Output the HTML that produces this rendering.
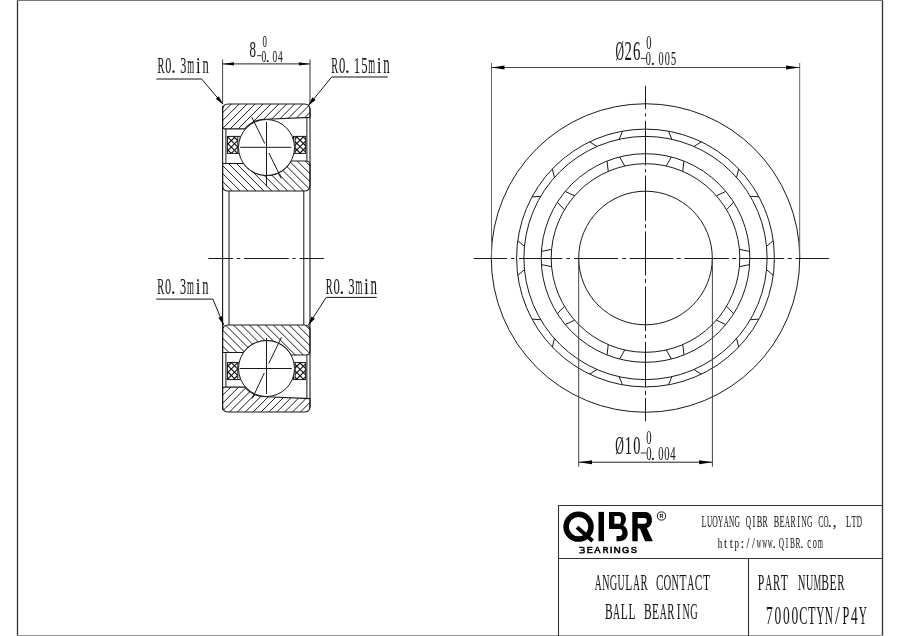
<!DOCTYPE html><html><head><meta charset="utf-8"><style>html,body{margin:0;padding:0;background:#fff;width:900px;height:636px;overflow:hidden;position:relative}</style></head><body><svg width="900" height="636" viewBox="0 0 900 636" style="position:absolute;left:0;top:0;will-change:transform">
<defs>
<clipPath id="co0"><path d="M228.4,104.0 L304.2,104.0 Q310,104.0 310,109.8 L310,117.4 L266.5,119.2 A28.3,28.3 0 0 0 244.7,128.9 L224.5,128.9 Q222.6,128.9 222.6,127 L222.6,109.8 Q222.6,104.0 228.4,104.0 Z"/></clipPath>
<clipPath id="ci0"><path d="M222.6,163.5 L243.52,163.5 A28.0,28.0 0 0 0 291.03,161.0 L306.0,161.0 Q310,161.0 310,165.0 L310,185.2 Q310,191 304.2,191 L228.4,191 Q222.6,191 222.6,185.2 Z"/></clipPath>
<clipPath id="cgl0"><rect x="227.4" y="136.4" width="10.400000000000006" height="17.0"/></clipPath>
<clipPath id="cgr0"><rect x="295.1" y="136.4" width="10.599999999999966" height="17.0"/></clipPath>
<clipPath id="co1"><path d="M228.4,412.0 L304.2,412.0 Q310,412.0 310,406.2 L310,398.6 L266.5,396.8 A28.3,28.3 0 0 1 244.7,387.1 L224.5,387.1 Q222.6,387.1 222.6,389.0 L222.6,406.2 Q222.6,412.0 228.4,412.0 Z"/></clipPath>
<clipPath id="ci1"><path d="M222.6,352.5 L243.52,352.5 A28.0,28.0 0 0 1 291.03,355.0 L306.0,355.0 Q310,355.0 310,351.0 L310,330.8 Q310,325.0 304.2,325.0 L228.4,325.0 Q222.6,325.0 222.6,330.8 Z"/></clipPath>
<clipPath id="cgl1"><rect x="227.4" y="362.6" width="10.400000000000006" height="17.0"/></clipPath>
<clipPath id="cgr1"><rect x="295.1" y="362.6" width="10.599999999999966" height="17.0"/></clipPath>
</defs>
<rect x="0" y="0" width="900" height="636" fill="#fff"/>
<line x1="17.50" y1="0.00" x2="17.50" y2="636.00" stroke="#333" stroke-width="1.3" />
<line x1="882.50" y1="0.00" x2="882.50" y2="636.00" stroke="#333" stroke-width="1.3" />
<line x1="17.00" y1="0.50" x2="883.00" y2="0.50" stroke="#777" stroke-width="1" />
<line x1="17.00" y1="635.50" x2="883.00" y2="635.50" stroke="#999" stroke-width="1" />
<rect x="227.4" y="136.4" width="12.799999999999983" height="17.0" fill="#fff" stroke="#1a1a1a" stroke-width="1"/>
<rect x="293.5" y="136.4" width="12.199999999999989" height="17.0" fill="#fff" stroke="#1a1a1a" stroke-width="1"/>
<line x1="237.80" y1="136.40" x2="237.80" y2="153.40" stroke="#1a1a1a" stroke-width="1" />
<line x1="295.10" y1="136.40" x2="295.10" y2="153.40" stroke="#1a1a1a" stroke-width="1" />
<g clip-path="url(#cgl0)">
<line x1="233.50" y1="100.00" x2="-66.50" y2="400.00" stroke="#111" stroke-width="1.15" />
<line x1="145.90" y1="100.00" x2="445.90" y2="400.00" stroke="#111" stroke-width="1.15" />
<line x1="239.90" y1="100.00" x2="-60.10" y2="400.00" stroke="#111" stroke-width="1.15" />
<line x1="152.30" y1="100.00" x2="452.30" y2="400.00" stroke="#111" stroke-width="1.15" />
<line x1="246.30" y1="100.00" x2="-53.70" y2="400.00" stroke="#111" stroke-width="1.15" />
<line x1="158.70" y1="100.00" x2="458.70" y2="400.00" stroke="#111" stroke-width="1.15" />
<line x1="252.70" y1="100.00" x2="-47.30" y2="400.00" stroke="#111" stroke-width="1.15" />
<line x1="165.10" y1="100.00" x2="465.10" y2="400.00" stroke="#111" stroke-width="1.15" />
<line x1="259.10" y1="100.00" x2="-40.90" y2="400.00" stroke="#111" stroke-width="1.15" />
<line x1="171.50" y1="100.00" x2="471.50" y2="400.00" stroke="#111" stroke-width="1.15" />
<line x1="265.50" y1="100.00" x2="-34.50" y2="400.00" stroke="#111" stroke-width="1.15" />
<line x1="177.90" y1="100.00" x2="477.90" y2="400.00" stroke="#111" stroke-width="1.15" />
<line x1="271.90" y1="100.00" x2="-28.10" y2="400.00" stroke="#111" stroke-width="1.15" />
<line x1="184.30" y1="100.00" x2="484.30" y2="400.00" stroke="#111" stroke-width="1.15" />
<line x1="278.30" y1="100.00" x2="-21.70" y2="400.00" stroke="#111" stroke-width="1.15" />
<line x1="190.70" y1="100.00" x2="490.70" y2="400.00" stroke="#111" stroke-width="1.15" />
<line x1="284.70" y1="100.00" x2="-15.30" y2="400.00" stroke="#111" stroke-width="1.15" />
<line x1="197.10" y1="100.00" x2="497.10" y2="400.00" stroke="#111" stroke-width="1.15" />
<line x1="291.10" y1="100.00" x2="-8.90" y2="400.00" stroke="#111" stroke-width="1.15" />
<line x1="203.50" y1="100.00" x2="503.50" y2="400.00" stroke="#111" stroke-width="1.15" />
<line x1="297.50" y1="100.00" x2="-2.50" y2="400.00" stroke="#111" stroke-width="1.15" />
<line x1="209.90" y1="100.00" x2="509.90" y2="400.00" stroke="#111" stroke-width="1.15" />
<line x1="303.90" y1="100.00" x2="3.90" y2="400.00" stroke="#111" stroke-width="1.15" />
<line x1="216.30" y1="100.00" x2="516.30" y2="400.00" stroke="#111" stroke-width="1.15" />
<line x1="310.30" y1="100.00" x2="10.30" y2="400.00" stroke="#111" stroke-width="1.15" />
<line x1="222.70" y1="100.00" x2="522.70" y2="400.00" stroke="#111" stroke-width="1.15" />
<line x1="316.70" y1="100.00" x2="16.70" y2="400.00" stroke="#111" stroke-width="1.15" />
<line x1="229.10" y1="100.00" x2="529.10" y2="400.00" stroke="#111" stroke-width="1.15" />
</g>
<g clip-path="url(#cgr0)">
<line x1="301.90" y1="100.00" x2="1.90" y2="400.00" stroke="#111" stroke-width="1.15" />
<line x1="215.10" y1="100.00" x2="515.10" y2="400.00" stroke="#111" stroke-width="1.15" />
<line x1="308.30" y1="100.00" x2="8.30" y2="400.00" stroke="#111" stroke-width="1.15" />
<line x1="221.50" y1="100.00" x2="521.50" y2="400.00" stroke="#111" stroke-width="1.15" />
<line x1="314.70" y1="100.00" x2="14.70" y2="400.00" stroke="#111" stroke-width="1.15" />
<line x1="227.90" y1="100.00" x2="527.90" y2="400.00" stroke="#111" stroke-width="1.15" />
<line x1="321.10" y1="100.00" x2="21.10" y2="400.00" stroke="#111" stroke-width="1.15" />
<line x1="234.30" y1="100.00" x2="534.30" y2="400.00" stroke="#111" stroke-width="1.15" />
<line x1="327.50" y1="100.00" x2="27.50" y2="400.00" stroke="#111" stroke-width="1.15" />
<line x1="240.70" y1="100.00" x2="540.70" y2="400.00" stroke="#111" stroke-width="1.15" />
<line x1="333.90" y1="100.00" x2="33.90" y2="400.00" stroke="#111" stroke-width="1.15" />
<line x1="247.10" y1="100.00" x2="547.10" y2="400.00" stroke="#111" stroke-width="1.15" />
<line x1="340.30" y1="100.00" x2="40.30" y2="400.00" stroke="#111" stroke-width="1.15" />
<line x1="253.50" y1="100.00" x2="553.50" y2="400.00" stroke="#111" stroke-width="1.15" />
<line x1="346.70" y1="100.00" x2="46.70" y2="400.00" stroke="#111" stroke-width="1.15" />
<line x1="259.90" y1="100.00" x2="559.90" y2="400.00" stroke="#111" stroke-width="1.15" />
<line x1="353.10" y1="100.00" x2="53.10" y2="400.00" stroke="#111" stroke-width="1.15" />
<line x1="266.30" y1="100.00" x2="566.30" y2="400.00" stroke="#111" stroke-width="1.15" />
<line x1="359.50" y1="100.00" x2="59.50" y2="400.00" stroke="#111" stroke-width="1.15" />
<line x1="272.70" y1="100.00" x2="572.70" y2="400.00" stroke="#111" stroke-width="1.15" />
<line x1="365.90" y1="100.00" x2="65.90" y2="400.00" stroke="#111" stroke-width="1.15" />
<line x1="279.10" y1="100.00" x2="579.10" y2="400.00" stroke="#111" stroke-width="1.15" />
<line x1="372.30" y1="100.00" x2="72.30" y2="400.00" stroke="#111" stroke-width="1.15" />
<line x1="285.50" y1="100.00" x2="585.50" y2="400.00" stroke="#111" stroke-width="1.15" />
<line x1="378.70" y1="100.00" x2="78.70" y2="400.00" stroke="#111" stroke-width="1.15" />
<line x1="291.90" y1="100.00" x2="591.90" y2="400.00" stroke="#111" stroke-width="1.15" />
<line x1="385.10" y1="100.00" x2="85.10" y2="400.00" stroke="#111" stroke-width="1.15" />
<line x1="298.30" y1="100.00" x2="598.30" y2="400.00" stroke="#111" stroke-width="1.15" />
</g>
<line x1="225.90" y1="128.90" x2="225.90" y2="163.50" stroke="#1a1a1a" stroke-width="1" />
<line x1="306.90" y1="117.40" x2="306.90" y2="161.00" stroke="#1a1a1a" stroke-width="1" />
<path d="M228.4,104.0 L304.2,104.0 Q310,104.0 310,109.8 L310,117.4 L266.5,119.2 A28.3,28.3 0 0 0 244.7,128.9 L224.5,128.9 Q222.6,128.9 222.6,127 L222.6,109.8 Q222.6,104.0 228.4,104.0 Z" fill="#fff" stroke="#1a1a1a" stroke-width="1.1"/>
<path d="M222.6,163.5 L243.52,163.5 A28.0,28.0 0 0 0 291.03,161.0 L306.0,161.0 Q310,161.0 310,165.0 L310,185.2 Q310,191 304.2,191 L228.4,191 Q222.6,191 222.6,185.2 Z" fill="#fff" stroke="#1a1a1a" stroke-width="1.1"/>
<circle cx="266.5" cy="147.5" r="28.0" fill="#fff" stroke="#1a1a1a" stroke-width="1"/>
<g clip-path="url(#co0)">
<line x1="237.38" y1="90.00" x2="-102.62" y2="430.00" stroke="#1a1a1a" stroke-width="1.0" />
<line x1="245.30" y1="90.00" x2="-94.70" y2="430.00" stroke="#1a1a1a" stroke-width="1.0" />
<line x1="253.22" y1="90.00" x2="-86.78" y2="430.00" stroke="#1a1a1a" stroke-width="1.0" />
<line x1="261.14" y1="90.00" x2="-78.86" y2="430.00" stroke="#1a1a1a" stroke-width="1.0" />
<line x1="269.06" y1="90.00" x2="-70.94" y2="430.00" stroke="#1a1a1a" stroke-width="1.0" />
<line x1="276.98" y1="90.00" x2="-63.02" y2="430.00" stroke="#1a1a1a" stroke-width="1.0" />
<line x1="284.90" y1="90.00" x2="-55.10" y2="430.00" stroke="#1a1a1a" stroke-width="1.0" />
<line x1="292.82" y1="90.00" x2="-47.18" y2="430.00" stroke="#1a1a1a" stroke-width="1.0" />
<line x1="300.74" y1="90.00" x2="-39.26" y2="430.00" stroke="#1a1a1a" stroke-width="1.0" />
<line x1="308.66" y1="90.00" x2="-31.34" y2="430.00" stroke="#1a1a1a" stroke-width="1.0" />
<line x1="316.58" y1="90.00" x2="-23.42" y2="430.00" stroke="#1a1a1a" stroke-width="1.0" />
<line x1="324.50" y1="90.00" x2="-15.50" y2="430.00" stroke="#1a1a1a" stroke-width="1.0" />
<line x1="332.42" y1="90.00" x2="-7.58" y2="430.00" stroke="#1a1a1a" stroke-width="1.0" />
<line x1="340.34" y1="90.00" x2="0.34" y2="430.00" stroke="#1a1a1a" stroke-width="1.0" />
<line x1="348.26" y1="90.00" x2="8.26" y2="430.00" stroke="#1a1a1a" stroke-width="1.0" />
<line x1="356.18" y1="90.00" x2="16.18" y2="430.00" stroke="#1a1a1a" stroke-width="1.0" />
</g>
<g clip-path="url(#ci0)">
<line x1="115.36" y1="90.00" x2="455.36" y2="430.00" stroke="#1a1a1a" stroke-width="1.0" />
<line x1="123.28" y1="90.00" x2="463.28" y2="430.00" stroke="#1a1a1a" stroke-width="1.0" />
<line x1="131.20" y1="90.00" x2="471.20" y2="430.00" stroke="#1a1a1a" stroke-width="1.0" />
<line x1="139.12" y1="90.00" x2="479.12" y2="430.00" stroke="#1a1a1a" stroke-width="1.0" />
<line x1="147.04" y1="90.00" x2="487.04" y2="430.00" stroke="#1a1a1a" stroke-width="1.0" />
<line x1="154.96" y1="90.00" x2="494.96" y2="430.00" stroke="#1a1a1a" stroke-width="1.0" />
<line x1="162.88" y1="90.00" x2="502.88" y2="430.00" stroke="#1a1a1a" stroke-width="1.0" />
<line x1="170.80" y1="90.00" x2="510.80" y2="430.00" stroke="#1a1a1a" stroke-width="1.0" />
<line x1="178.72" y1="90.00" x2="518.72" y2="430.00" stroke="#1a1a1a" stroke-width="1.0" />
<line x1="186.64" y1="90.00" x2="526.64" y2="430.00" stroke="#1a1a1a" stroke-width="1.0" />
<line x1="194.56" y1="90.00" x2="534.56" y2="430.00" stroke="#1a1a1a" stroke-width="1.0" />
<line x1="202.48" y1="90.00" x2="542.48" y2="430.00" stroke="#1a1a1a" stroke-width="1.0" />
<line x1="210.40" y1="90.00" x2="550.40" y2="430.00" stroke="#1a1a1a" stroke-width="1.0" />
<line x1="218.32" y1="90.00" x2="558.32" y2="430.00" stroke="#1a1a1a" stroke-width="1.0" />
<line x1="226.24" y1="90.00" x2="566.24" y2="430.00" stroke="#1a1a1a" stroke-width="1.0" />
<line x1="234.16" y1="90.00" x2="574.16" y2="430.00" stroke="#1a1a1a" stroke-width="1.0" />
<line x1="242.08" y1="90.00" x2="582.08" y2="430.00" stroke="#1a1a1a" stroke-width="1.0" />
<line x1="250.00" y1="90.00" x2="590.00" y2="430.00" stroke="#1a1a1a" stroke-width="1.0" />
</g>
<rect x="227.4" y="362.6" width="12.799999999999983" height="17.0" fill="#fff" stroke="#1a1a1a" stroke-width="1"/>
<rect x="293.5" y="362.6" width="12.199999999999989" height="17.0" fill="#fff" stroke="#1a1a1a" stroke-width="1"/>
<line x1="237.80" y1="362.60" x2="237.80" y2="379.60" stroke="#1a1a1a" stroke-width="1" />
<line x1="295.10" y1="362.60" x2="295.10" y2="379.60" stroke="#1a1a1a" stroke-width="1" />
<g clip-path="url(#cgl1)">
<line x1="233.50" y1="416.00" x2="-66.50" y2="116.00" stroke="#111" stroke-width="1.15" />
<line x1="145.90" y1="416.00" x2="445.90" y2="116.00" stroke="#111" stroke-width="1.15" />
<line x1="239.90" y1="416.00" x2="-60.10" y2="116.00" stroke="#111" stroke-width="1.15" />
<line x1="152.30" y1="416.00" x2="452.30" y2="116.00" stroke="#111" stroke-width="1.15" />
<line x1="246.30" y1="416.00" x2="-53.70" y2="116.00" stroke="#111" stroke-width="1.15" />
<line x1="158.70" y1="416.00" x2="458.70" y2="116.00" stroke="#111" stroke-width="1.15" />
<line x1="252.70" y1="416.00" x2="-47.30" y2="116.00" stroke="#111" stroke-width="1.15" />
<line x1="165.10" y1="416.00" x2="465.10" y2="116.00" stroke="#111" stroke-width="1.15" />
<line x1="259.10" y1="416.00" x2="-40.90" y2="116.00" stroke="#111" stroke-width="1.15" />
<line x1="171.50" y1="416.00" x2="471.50" y2="116.00" stroke="#111" stroke-width="1.15" />
<line x1="265.50" y1="416.00" x2="-34.50" y2="116.00" stroke="#111" stroke-width="1.15" />
<line x1="177.90" y1="416.00" x2="477.90" y2="116.00" stroke="#111" stroke-width="1.15" />
<line x1="271.90" y1="416.00" x2="-28.10" y2="116.00" stroke="#111" stroke-width="1.15" />
<line x1="184.30" y1="416.00" x2="484.30" y2="116.00" stroke="#111" stroke-width="1.15" />
<line x1="278.30" y1="416.00" x2="-21.70" y2="116.00" stroke="#111" stroke-width="1.15" />
<line x1="190.70" y1="416.00" x2="490.70" y2="116.00" stroke="#111" stroke-width="1.15" />
<line x1="284.70" y1="416.00" x2="-15.30" y2="116.00" stroke="#111" stroke-width="1.15" />
<line x1="197.10" y1="416.00" x2="497.10" y2="116.00" stroke="#111" stroke-width="1.15" />
<line x1="291.10" y1="416.00" x2="-8.90" y2="116.00" stroke="#111" stroke-width="1.15" />
<line x1="203.50" y1="416.00" x2="503.50" y2="116.00" stroke="#111" stroke-width="1.15" />
<line x1="297.50" y1="416.00" x2="-2.50" y2="116.00" stroke="#111" stroke-width="1.15" />
<line x1="209.90" y1="416.00" x2="509.90" y2="116.00" stroke="#111" stroke-width="1.15" />
<line x1="303.90" y1="416.00" x2="3.90" y2="116.00" stroke="#111" stroke-width="1.15" />
<line x1="216.30" y1="416.00" x2="516.30" y2="116.00" stroke="#111" stroke-width="1.15" />
<line x1="310.30" y1="416.00" x2="10.30" y2="116.00" stroke="#111" stroke-width="1.15" />
<line x1="222.70" y1="416.00" x2="522.70" y2="116.00" stroke="#111" stroke-width="1.15" />
<line x1="316.70" y1="416.00" x2="16.70" y2="116.00" stroke="#111" stroke-width="1.15" />
<line x1="229.10" y1="416.00" x2="529.10" y2="116.00" stroke="#111" stroke-width="1.15" />
</g>
<g clip-path="url(#cgr1)">
<line x1="301.90" y1="416.00" x2="1.90" y2="116.00" stroke="#111" stroke-width="1.15" />
<line x1="215.10" y1="416.00" x2="515.10" y2="116.00" stroke="#111" stroke-width="1.15" />
<line x1="308.30" y1="416.00" x2="8.30" y2="116.00" stroke="#111" stroke-width="1.15" />
<line x1="221.50" y1="416.00" x2="521.50" y2="116.00" stroke="#111" stroke-width="1.15" />
<line x1="314.70" y1="416.00" x2="14.70" y2="116.00" stroke="#111" stroke-width="1.15" />
<line x1="227.90" y1="416.00" x2="527.90" y2="116.00" stroke="#111" stroke-width="1.15" />
<line x1="321.10" y1="416.00" x2="21.10" y2="116.00" stroke="#111" stroke-width="1.15" />
<line x1="234.30" y1="416.00" x2="534.30" y2="116.00" stroke="#111" stroke-width="1.15" />
<line x1="327.50" y1="416.00" x2="27.50" y2="116.00" stroke="#111" stroke-width="1.15" />
<line x1="240.70" y1="416.00" x2="540.70" y2="116.00" stroke="#111" stroke-width="1.15" />
<line x1="333.90" y1="416.00" x2="33.90" y2="116.00" stroke="#111" stroke-width="1.15" />
<line x1="247.10" y1="416.00" x2="547.10" y2="116.00" stroke="#111" stroke-width="1.15" />
<line x1="340.30" y1="416.00" x2="40.30" y2="116.00" stroke="#111" stroke-width="1.15" />
<line x1="253.50" y1="416.00" x2="553.50" y2="116.00" stroke="#111" stroke-width="1.15" />
<line x1="346.70" y1="416.00" x2="46.70" y2="116.00" stroke="#111" stroke-width="1.15" />
<line x1="259.90" y1="416.00" x2="559.90" y2="116.00" stroke="#111" stroke-width="1.15" />
<line x1="353.10" y1="416.00" x2="53.10" y2="116.00" stroke="#111" stroke-width="1.15" />
<line x1="266.30" y1="416.00" x2="566.30" y2="116.00" stroke="#111" stroke-width="1.15" />
<line x1="359.50" y1="416.00" x2="59.50" y2="116.00" stroke="#111" stroke-width="1.15" />
<line x1="272.70" y1="416.00" x2="572.70" y2="116.00" stroke="#111" stroke-width="1.15" />
<line x1="365.90" y1="416.00" x2="65.90" y2="116.00" stroke="#111" stroke-width="1.15" />
<line x1="279.10" y1="416.00" x2="579.10" y2="116.00" stroke="#111" stroke-width="1.15" />
<line x1="372.30" y1="416.00" x2="72.30" y2="116.00" stroke="#111" stroke-width="1.15" />
<line x1="285.50" y1="416.00" x2="585.50" y2="116.00" stroke="#111" stroke-width="1.15" />
<line x1="378.70" y1="416.00" x2="78.70" y2="116.00" stroke="#111" stroke-width="1.15" />
<line x1="291.90" y1="416.00" x2="591.90" y2="116.00" stroke="#111" stroke-width="1.15" />
<line x1="385.10" y1="416.00" x2="85.10" y2="116.00" stroke="#111" stroke-width="1.15" />
<line x1="298.30" y1="416.00" x2="598.30" y2="116.00" stroke="#111" stroke-width="1.15" />
</g>
<line x1="225.90" y1="352.50" x2="225.90" y2="387.10" stroke="#1a1a1a" stroke-width="1" />
<line x1="306.90" y1="355.00" x2="306.90" y2="398.60" stroke="#1a1a1a" stroke-width="1" />
<path d="M228.4,412.0 L304.2,412.0 Q310,412.0 310,406.2 L310,398.6 L266.5,396.8 A28.3,28.3 0 0 1 244.7,387.1 L224.5,387.1 Q222.6,387.1 222.6,389.0 L222.6,406.2 Q222.6,412.0 228.4,412.0 Z" fill="#fff" stroke="#1a1a1a" stroke-width="1.1"/>
<path d="M222.6,352.5 L243.52,352.5 A28.0,28.0 0 0 1 291.03,355.0 L306.0,355.0 Q310,355.0 310,351.0 L310,330.8 Q310,325.0 304.2,325.0 L228.4,325.0 Q222.6,325.0 222.6,330.8 Z" fill="#fff" stroke="#1a1a1a" stroke-width="1.1"/>
<circle cx="266.5" cy="368.5" r="28.0" fill="#fff" stroke="#1a1a1a" stroke-width="1"/>
<g clip-path="url(#ci1)">
<line x1="-49.46" y1="90.00" x2="290.54" y2="430.00" stroke="#1a1a1a" stroke-width="1.0" />
<line x1="-41.48" y1="90.00" x2="298.52" y2="430.00" stroke="#1a1a1a" stroke-width="1.0" />
<line x1="-33.50" y1="90.00" x2="306.50" y2="430.00" stroke="#1a1a1a" stroke-width="1.0" />
<line x1="-25.52" y1="90.00" x2="314.48" y2="430.00" stroke="#1a1a1a" stroke-width="1.0" />
<line x1="-17.54" y1="90.00" x2="322.46" y2="430.00" stroke="#1a1a1a" stroke-width="1.0" />
<line x1="-9.56" y1="90.00" x2="330.44" y2="430.00" stroke="#1a1a1a" stroke-width="1.0" />
<line x1="-1.58" y1="90.00" x2="338.42" y2="430.00" stroke="#1a1a1a" stroke-width="1.0" />
<line x1="6.40" y1="90.00" x2="346.40" y2="430.00" stroke="#1a1a1a" stroke-width="1.0" />
<line x1="14.38" y1="90.00" x2="354.38" y2="430.00" stroke="#1a1a1a" stroke-width="1.0" />
<line x1="22.36" y1="90.00" x2="362.36" y2="430.00" stroke="#1a1a1a" stroke-width="1.0" />
<line x1="30.34" y1="90.00" x2="370.34" y2="430.00" stroke="#1a1a1a" stroke-width="1.0" />
<line x1="38.32" y1="90.00" x2="378.32" y2="430.00" stroke="#1a1a1a" stroke-width="1.0" />
<line x1="46.30" y1="90.00" x2="386.30" y2="430.00" stroke="#1a1a1a" stroke-width="1.0" />
<line x1="54.28" y1="90.00" x2="394.28" y2="430.00" stroke="#1a1a1a" stroke-width="1.0" />
<line x1="62.26" y1="90.00" x2="402.26" y2="430.00" stroke="#1a1a1a" stroke-width="1.0" />
<line x1="70.24" y1="90.00" x2="410.24" y2="430.00" stroke="#1a1a1a" stroke-width="1.0" />
<line x1="78.22" y1="90.00" x2="418.22" y2="430.00" stroke="#1a1a1a" stroke-width="1.0" />
<line x1="86.20" y1="90.00" x2="426.20" y2="430.00" stroke="#1a1a1a" stroke-width="1.0" />
</g>
<g clip-path="url(#co1)">
<line x1="519.98" y1="90.00" x2="179.98" y2="430.00" stroke="#1a1a1a" stroke-width="1.0" />
<line x1="527.86" y1="90.00" x2="187.86" y2="430.00" stroke="#1a1a1a" stroke-width="1.0" />
<line x1="535.74" y1="90.00" x2="195.74" y2="430.00" stroke="#1a1a1a" stroke-width="1.0" />
<line x1="543.62" y1="90.00" x2="203.62" y2="430.00" stroke="#1a1a1a" stroke-width="1.0" />
<line x1="551.50" y1="90.00" x2="211.50" y2="430.00" stroke="#1a1a1a" stroke-width="1.0" />
<line x1="559.38" y1="90.00" x2="219.38" y2="430.00" stroke="#1a1a1a" stroke-width="1.0" />
<line x1="567.26" y1="90.00" x2="227.26" y2="430.00" stroke="#1a1a1a" stroke-width="1.0" />
<line x1="575.14" y1="90.00" x2="235.14" y2="430.00" stroke="#1a1a1a" stroke-width="1.0" />
<line x1="583.02" y1="90.00" x2="243.02" y2="430.00" stroke="#1a1a1a" stroke-width="1.0" />
<line x1="590.90" y1="90.00" x2="250.90" y2="430.00" stroke="#1a1a1a" stroke-width="1.0" />
<line x1="598.78" y1="90.00" x2="258.78" y2="430.00" stroke="#1a1a1a" stroke-width="1.0" />
<line x1="606.66" y1="90.00" x2="266.66" y2="430.00" stroke="#1a1a1a" stroke-width="1.0" />
<line x1="614.54" y1="90.00" x2="274.54" y2="430.00" stroke="#1a1a1a" stroke-width="1.0" />
<line x1="622.42" y1="90.00" x2="282.42" y2="430.00" stroke="#1a1a1a" stroke-width="1.0" />
<line x1="630.30" y1="90.00" x2="290.30" y2="430.00" stroke="#1a1a1a" stroke-width="1.0" />
<line x1="638.18" y1="90.00" x2="298.18" y2="430.00" stroke="#1a1a1a" stroke-width="1.0" />
</g>
<line x1="222.60" y1="106.00" x2="222.60" y2="410.00" stroke="#1a1a1a" stroke-width="1.1" />
<line x1="310.00" y1="108.00" x2="310.00" y2="408.00" stroke="#1a1a1a" stroke-width="1.1" />
<line x1="229.00" y1="191.00" x2="229.00" y2="325.00" stroke="#1a1a1a" stroke-width="1" />
<line x1="303.80" y1="191.00" x2="303.80" y2="325.00" stroke="#1a1a1a" stroke-width="1" />
<line x1="266.50" y1="121.80" x2="266.50" y2="186.30" stroke="#1a1a1a" stroke-width="1" />
<line x1="240.20" y1="147.30" x2="291.40" y2="147.30" stroke="#1a1a1a" stroke-width="1" />
<line x1="251.80" y1="117.10" x2="264.80" y2="143.60" stroke="#1a1a1a" stroke-width="1" />
<line x1="268.90" y1="153.00" x2="281.30" y2="178.40" stroke="#1a1a1a" stroke-width="1" />
<polygon points="281.30,178.40 280.31,173.87 278.34,174.84" fill="#333"/>
<polygon points="252.30,398.40 255.22,394.80 253.23,393.86" fill="#333"/>
<line x1="266.50" y1="337.90" x2="266.50" y2="393.90" stroke="#1a1a1a" stroke-width="1" />
<line x1="239.60" y1="368.50" x2="291.90" y2="368.50" stroke="#1a1a1a" stroke-width="1" />
<line x1="281.50" y1="337.20" x2="268.80" y2="363.30" stroke="#1a1a1a" stroke-width="1" />
<line x1="264.30" y1="373.00" x2="252.30" y2="398.40" stroke="#1a1a1a" stroke-width="1" />
<line x1="208.40" y1="258.50" x2="232.90" y2="258.50" stroke="#1a1a1a" stroke-width="1" />
<line x1="236.80" y1="258.50" x2="240.20" y2="258.50" stroke="#1a1a1a" stroke-width="1" />
<line x1="244.00" y1="258.50" x2="288.80" y2="258.50" stroke="#1a1a1a" stroke-width="1" />
<line x1="292.40" y1="258.50" x2="295.60" y2="258.50" stroke="#1a1a1a" stroke-width="1" />
<line x1="299.70" y1="258.50" x2="323.90" y2="258.50" stroke="#1a1a1a" stroke-width="1" />
<line x1="222.60" y1="59.40" x2="222.60" y2="104.00" stroke="#444" stroke-width="1" />
<line x1="310.00" y1="59.40" x2="310.00" y2="104.00" stroke="#333" stroke-width="1" />
<line x1="222.60" y1="63.90" x2="310.00" y2="63.90" stroke="#222" stroke-width="1" />
<polygon points="222.60,63.90 233.90,65.50 233.90,62.30" fill="#000"/>
<polygon points="310.00,63.90 298.90,62.30 298.90,65.50" fill="#000"/>
<line x1="257.10" y1="55.70" x2="261.40" y2="55.70" stroke="#1a1a1a" stroke-width="0.9" />
<line x1="156.40" y1="79.00" x2="201.60" y2="79.00" stroke="#111" stroke-width="1" />
<line x1="201.60" y1="79.00" x2="223.00" y2="104.20" stroke="#1a1a1a" stroke-width="1" />
<polygon points="223.10,104.40 218.81,96.24 215.76,98.82" fill="#000"/>
<line x1="331.70" y1="77.00" x2="387.80" y2="77.00" stroke="#111" stroke-width="1" />
<line x1="331.70" y1="77.00" x2="308.30" y2="105.60" stroke="#1a1a1a" stroke-width="1" />
<polygon points="308.30,105.60 315.55,99.90 312.45,97.37" fill="#000"/>
<line x1="156.20" y1="299.10" x2="212.90" y2="299.10" stroke="#111" stroke-width="1" />
<line x1="212.90" y1="299.10" x2="223.70" y2="325.20" stroke="#1a1a1a" stroke-width="1" />
<polygon points="223.70,325.20 222.11,316.12 218.41,317.65" fill="#000"/>
<line x1="326.20" y1="297.40" x2="376.70" y2="297.40" stroke="#111" stroke-width="1" />
<line x1="326.20" y1="297.40" x2="308.30" y2="325.20" stroke="#1a1a1a" stroke-width="1" />
<polygon points="308.30,325.20 314.85,318.72 311.49,316.55" fill="#000"/>
<circle cx="645.5" cy="258.0" r="154.25" fill="none" stroke="#1a1a1a" stroke-width="1"/>
<circle cx="645.5" cy="258.0" r="128.9" fill="none" stroke="#1a1a1a" stroke-width="1"/>
<circle cx="645.5" cy="258.0" r="121.6" fill="none" stroke="#1a1a1a" stroke-width="1"/>
<circle cx="645.5" cy="258.0" r="104.3" fill="none" stroke="#1a1a1a" stroke-width="1"/>
<circle cx="645.5" cy="258.0" r="94.3" fill="none" stroke="#1a1a1a" stroke-width="1"/>
<circle cx="645.5" cy="258.0" r="66.8" fill="none" stroke="#1a1a1a" stroke-width="1"/>
<line x1="622.45" y1="131.18" x2="619.18" y2="139.28" stroke="#1a1a1a" stroke-width="1" />
<line x1="619.65" y1="156.95" x2="624.69" y2="166.03" stroke="#1a1a1a" stroke-width="1" />
<line x1="589.60" y1="141.85" x2="597.01" y2="146.49" stroke="#1a1a1a" stroke-width="1" />
<line x1="607.02" y1="161.06" x2="608.28" y2="171.36" stroke="#1a1a1a" stroke-width="1" />
<line x1="552.31" y1="168.95" x2="554.43" y2="177.43" stroke="#1a1a1a" stroke-width="1" />
<line x1="565.19" y1="191.45" x2="574.60" y2="195.82" stroke="#1a1a1a" stroke-width="1" />
<line x1="532.01" y1="196.89" x2="540.73" y2="196.28" stroke="#1a1a1a" stroke-width="1" />
<line x1="557.39" y1="202.19" x2="564.46" y2="209.79" stroke="#1a1a1a" stroke-width="1" />
<line x1="517.76" y1="240.73" x2="524.46" y2="246.35" stroke="#1a1a1a" stroke-width="1" />
<line x1="541.41" y1="251.36" x2="551.60" y2="249.37" stroke="#1a1a1a" stroke-width="1" />
<line x1="517.76" y1="275.27" x2="524.46" y2="269.65" stroke="#1a1a1a" stroke-width="1" />
<line x1="541.41" y1="264.64" x2="551.60" y2="266.63" stroke="#1a1a1a" stroke-width="1" />
<line x1="532.01" y1="319.11" x2="540.73" y2="319.72" stroke="#1a1a1a" stroke-width="1" />
<line x1="557.39" y1="313.81" x2="564.46" y2="306.21" stroke="#1a1a1a" stroke-width="1" />
<line x1="552.31" y1="347.05" x2="554.43" y2="338.57" stroke="#1a1a1a" stroke-width="1" />
<line x1="565.19" y1="324.55" x2="574.60" y2="320.18" stroke="#1a1a1a" stroke-width="1" />
<line x1="589.60" y1="374.15" x2="597.01" y2="369.51" stroke="#1a1a1a" stroke-width="1" />
<line x1="607.02" y1="354.94" x2="608.28" y2="344.64" stroke="#1a1a1a" stroke-width="1" />
<line x1="622.45" y1="384.82" x2="619.18" y2="376.72" stroke="#1a1a1a" stroke-width="1" />
<line x1="619.65" y1="359.05" x2="624.69" y2="349.97" stroke="#1a1a1a" stroke-width="1" />
<line x1="668.55" y1="384.82" x2="671.82" y2="376.72" stroke="#1a1a1a" stroke-width="1" />
<line x1="671.35" y1="359.05" x2="666.31" y2="349.97" stroke="#1a1a1a" stroke-width="1" />
<line x1="701.40" y1="374.15" x2="693.99" y2="369.51" stroke="#1a1a1a" stroke-width="1" />
<line x1="683.98" y1="354.94" x2="682.72" y2="344.64" stroke="#1a1a1a" stroke-width="1" />
<line x1="738.69" y1="347.05" x2="736.57" y2="338.57" stroke="#1a1a1a" stroke-width="1" />
<line x1="725.81" y1="324.55" x2="716.40" y2="320.18" stroke="#1a1a1a" stroke-width="1" />
<line x1="758.99" y1="319.11" x2="750.27" y2="319.72" stroke="#1a1a1a" stroke-width="1" />
<line x1="733.61" y1="313.81" x2="726.54" y2="306.21" stroke="#1a1a1a" stroke-width="1" />
<line x1="773.24" y1="275.27" x2="766.54" y2="269.65" stroke="#1a1a1a" stroke-width="1" />
<line x1="749.59" y1="264.64" x2="739.40" y2="266.63" stroke="#1a1a1a" stroke-width="1" />
<line x1="773.24" y1="240.73" x2="766.54" y2="246.35" stroke="#1a1a1a" stroke-width="1" />
<line x1="749.59" y1="251.36" x2="739.40" y2="249.37" stroke="#1a1a1a" stroke-width="1" />
<line x1="758.99" y1="196.89" x2="750.27" y2="196.28" stroke="#1a1a1a" stroke-width="1" />
<line x1="733.61" y1="202.19" x2="726.54" y2="209.79" stroke="#1a1a1a" stroke-width="1" />
<line x1="738.69" y1="168.95" x2="736.57" y2="177.43" stroke="#1a1a1a" stroke-width="1" />
<line x1="725.81" y1="191.45" x2="716.40" y2="195.82" stroke="#1a1a1a" stroke-width="1" />
<line x1="701.40" y1="141.85" x2="693.99" y2="146.49" stroke="#1a1a1a" stroke-width="1" />
<line x1="683.98" y1="161.06" x2="682.72" y2="171.36" stroke="#1a1a1a" stroke-width="1" />
<line x1="668.55" y1="131.18" x2="671.82" y2="139.28" stroke="#1a1a1a" stroke-width="1" />
<line x1="671.35" y1="156.95" x2="666.31" y2="166.03" stroke="#1a1a1a" stroke-width="1" />
<line x1="473.60" y1="258.50" x2="507.00" y2="258.50" stroke="#1a1a1a" stroke-width="1" />
<line x1="511.00" y1="258.50" x2="514.40" y2="258.50" stroke="#1a1a1a" stroke-width="1" />
<line x1="519.00" y1="258.50" x2="562.40" y2="258.50" stroke="#1a1a1a" stroke-width="1" />
<line x1="566.40" y1="258.50" x2="570.00" y2="258.50" stroke="#1a1a1a" stroke-width="1" />
<line x1="574.00" y1="258.50" x2="618.00" y2="258.50" stroke="#1a1a1a" stroke-width="1" />
<line x1="622.40" y1="258.50" x2="626.00" y2="258.50" stroke="#1a1a1a" stroke-width="1" />
<line x1="629.60" y1="258.50" x2="673.30" y2="258.50" stroke="#1a1a1a" stroke-width="1" />
<line x1="676.70" y1="258.50" x2="680.70" y2="258.50" stroke="#1a1a1a" stroke-width="1" />
<line x1="684.40" y1="258.50" x2="728.90" y2="258.50" stroke="#1a1a1a" stroke-width="1" />
<line x1="732.20" y1="258.50" x2="736.20" y2="258.50" stroke="#1a1a1a" stroke-width="1" />
<line x1="740.00" y1="258.50" x2="784.00" y2="258.50" stroke="#1a1a1a" stroke-width="1" />
<line x1="787.80" y1="258.50" x2="791.80" y2="258.50" stroke="#1a1a1a" stroke-width="1" />
<line x1="795.60" y1="258.50" x2="828.90" y2="258.50" stroke="#1a1a1a" stroke-width="1" />
<line x1="645.50" y1="85.90" x2="645.50" y2="109.00" stroke="#1a1a1a" stroke-width="1" />
<line x1="645.50" y1="113.30" x2="645.50" y2="116.50" stroke="#1a1a1a" stroke-width="1" />
<line x1="645.50" y1="120.80" x2="645.50" y2="165.60" stroke="#1a1a1a" stroke-width="1" />
<line x1="645.50" y1="169.10" x2="645.50" y2="172.40" stroke="#1a1a1a" stroke-width="1" />
<line x1="645.50" y1="175.50" x2="645.50" y2="220.80" stroke="#1a1a1a" stroke-width="1" />
<line x1="645.50" y1="224.30" x2="645.50" y2="227.80" stroke="#1a1a1a" stroke-width="1" />
<line x1="645.50" y1="231.40" x2="645.50" y2="275.50" stroke="#1a1a1a" stroke-width="1" />
<line x1="645.50" y1="279.00" x2="645.50" y2="282.80" stroke="#1a1a1a" stroke-width="1" />
<line x1="645.50" y1="286.50" x2="645.50" y2="331.00" stroke="#1a1a1a" stroke-width="1" />
<line x1="645.50" y1="334.50" x2="645.50" y2="338.20" stroke="#1a1a1a" stroke-width="1" />
<line x1="645.50" y1="342.00" x2="645.50" y2="387.40" stroke="#1a1a1a" stroke-width="1" />
<line x1="645.50" y1="390.90" x2="645.50" y2="395.10" stroke="#1a1a1a" stroke-width="1" />
<line x1="645.50" y1="398.00" x2="645.50" y2="421.30" stroke="#1a1a1a" stroke-width="1" />
<line x1="491.50" y1="63.00" x2="491.50" y2="258.00" stroke="#666" stroke-width="1" />
<line x1="799.70" y1="63.00" x2="799.70" y2="258.00" stroke="#666" stroke-width="1" />
<line x1="491.50" y1="67.50" x2="799.70" y2="67.50" stroke="#444" stroke-width="1" />
<polygon points="491.50,67.50 504.50,69.50 504.50,65.50" fill="#000"/>
<polygon points="799.70,67.50 786.00,65.50 786.00,69.50" fill="#000"/>
<line x1="640.80" y1="58.40" x2="646.20" y2="58.40" stroke="#1a1a1a" stroke-width="0.9" />
<line x1="578.70" y1="258.00" x2="578.70" y2="466.70" stroke="#444" stroke-width="1" />
<line x1="712.40" y1="258.00" x2="712.40" y2="466.70" stroke="#444" stroke-width="1" />
<line x1="578.70" y1="462.20" x2="712.40" y2="462.20" stroke="#222" stroke-width="1" />
<polygon points="578.70,462.20 592.00,464.20 592.00,460.20" fill="#000"/>
<polygon points="712.40,462.20 699.10,460.20 699.10,464.20" fill="#000"/>
<line x1="640.70" y1="453.00" x2="646.20" y2="453.00" stroke="#1a1a1a" stroke-width="0.9" />
<line x1="558.50" y1="505.50" x2="882.50" y2="505.50" stroke="#333" stroke-width="1.1" />
<line x1="558.50" y1="505.00" x2="558.50" y2="636.00" stroke="#333" stroke-width="1.1" />
<line x1="558.50" y1="558.50" x2="882.50" y2="558.50" stroke="#333" stroke-width="1.1" />
<line x1="748.50" y1="558.50" x2="748.50" y2="636.00" stroke="#333" stroke-width="1.1" />
<g fill="#000">
<circle cx="578.55" cy="526.65" r="12.45" fill="none" stroke="#000" stroke-width="5.5"/>
<polygon points="575.68,528.80 591.28,542.50 593.92,539.50 578.32,525.80"/>
<rect x="598.5" y="511.9" width="5.5" height="29.3"/>
<path fill-rule="evenodd" d="M609,511.9 H619.5 C623.5,511.9 625.9,514.8 625.9,518.6 C625.9,521.5 624.9,523.8 623.2,525.2 C626,526.8 627.7,529.8 627.7,533.3 C627.7,537.9 624.3,541.2 619.8,541.2 H616.5 V536 H619.9 C621.4,536 622.4,534.5 622.4,532.5 C622.4,530.4 621.4,528.9 619.9,528.9 H609 Z M614.4,516 H619 C620.3,516 621,517.4 621,519.9 C621,522.4 620.3,523.8 619,523.8 H614.4 Z"/>
<path fill-rule="evenodd" d="M632.3,511.9 H645.5 C649.3,511.9 652,515.2 652,520.1 C652,524.1 649.8,527.2 646.8,528.1 L652.8,541.2 H645.1 L639.8,528.6 H637.7 V541.2 H632.3 Z M637.7,517.9 H644.5 C645.9,517.9 646.8,519.1 646.8,520.85 C646.8,522.6 645.9,523.8 644.5,523.8 H637.7 Z"/>
</g>
<circle cx="661.5" cy="516" r="4.1" fill="none" stroke="#000" stroke-width="0.9"/>
<text x="661.5" y="518.2" font-family="Liberation Sans" font-weight="bold" font-size="5.5" text-anchor="middle" fill="#000">R</text>
<text transform="translate(589.82,553.33) scale(0.08981,0.09203)" font-family="Liberation Sans" font-size="100" text-anchor="middle" fill="#000" stroke="#000" stroke-width="0.55" vector-effect="non-scaling-stroke">E</text>
<text transform="translate(597.45,553.33) scale(0.09318,0.09203)" font-family="Liberation Sans" font-size="100" text-anchor="middle" fill="#000" stroke="#000" stroke-width="0.55" vector-effect="non-scaling-stroke">A</text>
<text transform="translate(605.53,553.33) scale(0.08051,0.09203)" font-family="Liberation Sans" font-size="100" text-anchor="middle" fill="#000" stroke="#000" stroke-width="0.55" vector-effect="non-scaling-stroke">R</text>
<text transform="translate(611.10,553.33) scale(0.10500,0.09203)" font-family="Liberation Sans" font-size="100" text-anchor="middle" fill="#000" stroke="#000" stroke-width="0.55" vector-effect="non-scaling-stroke">I</text>
<text transform="translate(617.10,553.33) scale(0.10089,0.09203)" font-family="Liberation Sans" font-size="100" text-anchor="middle" fill="#000" stroke="#000" stroke-width="0.55" vector-effect="non-scaling-stroke">N</text>
<text transform="translate(625.64,553.33) scale(0.09308,0.09071)" font-family="Liberation Sans" font-size="100" text-anchor="middle" fill="#000" stroke="#000" stroke-width="0.55" vector-effect="non-scaling-stroke">G</text>
<text transform="translate(633.80,553.33) scale(0.09386,0.09071)" font-family="Liberation Sans" font-size="100" text-anchor="middle" fill="#000" stroke="#000" stroke-width="0.55" vector-effect="non-scaling-stroke">S</text>
<path d="M579.2,547.35 H582.5 Q584.1,547.35 584.1,548.75 Q584.1,550.05 582.6,550.05 H580.6 M582.6,550.05 Q584.4,550.05 584.4,551.5 Q584.4,552.95 582.6,552.95 H579.2" fill="none" stroke="#000" stroke-width="1.3"/>
<g font-family="Liberation Serif" font-weight="normal" font-size="100" fill="#1a1a1a" stroke="#1a1a1a" stroke-width="0.08" text-anchor="middle">
<text transform="translate(160.92,72.50) scale(0.10410,0.22154)" vector-effect="non-scaling-stroke">R</text>
<text transform="translate(168.38,72.50) scale(0.12185,0.22154)" vector-effect="non-scaling-stroke">0</text>
<text transform="translate(173.59,72.50) scale(0.19938,0.22154)" vector-effect="non-scaling-stroke">.</text>
<text transform="translate(183.28,72.50) scale(0.12185,0.22154)" vector-effect="non-scaling-stroke">3</text>
<text transform="translate(190.74,72.50) scale(0.08863,0.25255)" vector-effect="non-scaling-stroke">m</text>
<text transform="translate(198.19,72.50) scale(0.16615,0.22154)" vector-effect="non-scaling-stroke">i</text>
<text transform="translate(205.65,72.50) scale(0.12406,0.25255)" vector-effect="non-scaling-stroke">n</text>
</g>
<g font-family="Liberation Serif" font-weight="normal" font-size="100" fill="#1a1a1a" stroke="#1a1a1a" stroke-width="0.08" text-anchor="middle">
<text transform="translate(334.79,73.30) scale(0.10303,0.23077)" vector-effect="non-scaling-stroke">R</text>
<text transform="translate(342.17,73.30) scale(0.12692,0.23077)" vector-effect="non-scaling-stroke">0</text>
<text transform="translate(347.33,73.30) scale(0.20769,0.23077)" vector-effect="non-scaling-stroke">.</text>
<text transform="translate(356.92,73.30) scale(0.12692,0.23077)" vector-effect="non-scaling-stroke">1</text>
<text transform="translate(364.30,73.30) scale(0.12692,0.23077)" vector-effect="non-scaling-stroke">5</text>
<text transform="translate(371.67,73.30) scale(0.08772,0.26308)" vector-effect="non-scaling-stroke">m</text>
<text transform="translate(379.05,73.30) scale(0.17308,0.23077)" vector-effect="non-scaling-stroke">i</text>
<text transform="translate(386.43,73.30) scale(0.12923,0.26308)" vector-effect="non-scaling-stroke">n</text>
</g>
<g font-family="Liberation Serif" font-weight="normal" font-size="100" fill="#1a1a1a" stroke="#1a1a1a" stroke-width="0.08" text-anchor="middle">
<text transform="translate(160.63,293.70) scale(0.10428,0.22308)" vector-effect="non-scaling-stroke">R</text>
<text transform="translate(168.09,293.70) scale(0.12269,0.22308)" vector-effect="non-scaling-stroke">0</text>
<text transform="translate(173.32,293.70) scale(0.20077,0.22308)" vector-effect="non-scaling-stroke">.</text>
<text transform="translate(183.03,293.70) scale(0.12269,0.22308)" vector-effect="non-scaling-stroke">3</text>
<text transform="translate(190.49,293.70) scale(0.08878,0.25431)" vector-effect="non-scaling-stroke">m</text>
<text transform="translate(197.96,293.70) scale(0.16731,0.22308)" vector-effect="non-scaling-stroke">i</text>
<text transform="translate(205.43,293.70) scale(0.12492,0.25431)" vector-effect="non-scaling-stroke">n</text>
</g>
<g font-family="Liberation Serif" font-weight="normal" font-size="100" fill="#1a1a1a" stroke="#1a1a1a" stroke-width="0.08" text-anchor="middle">
<text transform="translate(329.30,293.70) scale(0.10341,0.23077)" vector-effect="non-scaling-stroke">R</text>
<text transform="translate(336.71,293.70) scale(0.12692,0.23077)" vector-effect="non-scaling-stroke">0</text>
<text transform="translate(341.89,293.70) scale(0.20769,0.23077)" vector-effect="non-scaling-stroke">.</text>
<text transform="translate(351.52,293.70) scale(0.12692,0.23077)" vector-effect="non-scaling-stroke">3</text>
<text transform="translate(358.92,293.70) scale(0.08804,0.26308)" vector-effect="non-scaling-stroke">m</text>
<text transform="translate(366.32,293.70) scale(0.17308,0.23077)" vector-effect="non-scaling-stroke">i</text>
<text transform="translate(373.73,293.70) scale(0.12923,0.26308)" vector-effect="non-scaling-stroke">n</text>
</g>
<g font-family="Liberation Serif" font-weight="normal" font-size="100" fill="#1a1a1a" stroke="#1a1a1a" stroke-width="0.08" text-anchor="middle">
<text transform="translate(252.73,56.70) scale(0.12990,0.24000)" vector-effect="non-scaling-stroke">8</text>
</g>
<g font-family="Liberation Serif" font-weight="normal" font-size="100" fill="#1a1a1a" stroke="#1a1a1a" stroke-width="0.08" text-anchor="middle">
<text transform="translate(264.75,46.80) scale(0.08800,0.16154)" vector-effect="non-scaling-stroke">0</text>
</g>
<g font-family="Liberation Serif" font-weight="normal" font-size="100" fill="#1a1a1a" stroke="#1a1a1a" stroke-width="0.08" text-anchor="middle">
<text transform="translate(263.87,61.70) scale(0.09392,0.17077)" vector-effect="non-scaling-stroke">0</text>
<text transform="translate(267.71,61.70) scale(0.15369,0.17077)" vector-effect="non-scaling-stroke">.</text>
<text transform="translate(274.85,61.70) scale(0.09392,0.17077)" vector-effect="non-scaling-stroke">0</text>
<text transform="translate(280.34,61.70) scale(0.09392,0.17077)" vector-effect="non-scaling-stroke">4</text>
</g>
<g font-family="Liberation Serif" font-weight="normal" font-size="100" fill="#1a1a1a" stroke="#1a1a1a" stroke-width="0.08" text-anchor="middle">
<text transform="translate(619.65,59.60) scale(0.11711,0.26923)" vector-effect="non-scaling-stroke">Ø</text>
<text transform="translate(628.19,59.60) scale(0.14808,0.26923)" vector-effect="non-scaling-stroke">2</text>
<text transform="translate(636.74,59.60) scale(0.14808,0.26923)" vector-effect="non-scaling-stroke">6</text>
</g>
<g font-family="Liberation Serif" font-weight="normal" font-size="100" fill="#1a1a1a" stroke="#1a1a1a" stroke-width="0.08" text-anchor="middle">
<text transform="translate(648.80,48.70) scale(0.10492,0.19077)" vector-effect="non-scaling-stroke">0</text>
</g>
<g font-family="Liberation Serif" font-weight="normal" font-size="100" fill="#1a1a1a" stroke="#1a1a1a" stroke-width="0.08" text-anchor="middle">
<text transform="translate(648.35,64.70) scale(0.10238,0.18615)" vector-effect="non-scaling-stroke">0</text>
<text transform="translate(652.78,64.70) scale(0.16754,0.18615)" vector-effect="non-scaling-stroke">.</text>
<text transform="translate(661.00,64.70) scale(0.10238,0.18615)" vector-effect="non-scaling-stroke">0</text>
<text transform="translate(667.32,64.70) scale(0.10238,0.18615)" vector-effect="non-scaling-stroke">0</text>
<text transform="translate(673.65,64.70) scale(0.10238,0.18615)" vector-effect="non-scaling-stroke">5</text>
</g>
<g font-family="Liberation Serif" font-weight="normal" font-size="100" fill="#1a1a1a" stroke="#1a1a1a" stroke-width="0.08" text-anchor="middle">
<text transform="translate(619.60,454.20) scale(0.11891,0.26212)" vector-effect="non-scaling-stroke">Ø</text>
<text transform="translate(628.29,454.20) scale(0.14417,0.26212)" vector-effect="non-scaling-stroke">1</text>
<text transform="translate(636.97,454.20) scale(0.14417,0.26212)" vector-effect="non-scaling-stroke">0</text>
</g>
<g font-family="Liberation Serif" font-weight="normal" font-size="100" fill="#1a1a1a" stroke="#1a1a1a" stroke-width="0.08" text-anchor="middle">
<text transform="translate(648.82,443.60) scale(0.10577,0.19231)" vector-effect="non-scaling-stroke">0</text>
</g>
<g font-family="Liberation Serif" font-weight="normal" font-size="100" fill="#1a1a1a" stroke="#1a1a1a" stroke-width="0.08" text-anchor="middle">
<text transform="translate(648.82,459.90) scale(0.10577,0.19231)" vector-effect="non-scaling-stroke">0</text>
<text transform="translate(653.03,459.90) scale(0.17308,0.19231)" vector-effect="non-scaling-stroke">.</text>
<text transform="translate(660.84,459.90) scale(0.10577,0.19231)" vector-effect="non-scaling-stroke">0</text>
<text transform="translate(666.86,459.90) scale(0.10577,0.19231)" vector-effect="non-scaling-stroke">0</text>
<text transform="translate(672.87,459.90) scale(0.10577,0.19231)" vector-effect="non-scaling-stroke">4</text>
</g>
<g font-family="Liberation Serif" font-weight="normal" font-size="100" fill="#1a1a1a" stroke="#1a1a1a" stroke-width="0.08" text-anchor="middle">
<text transform="translate(703.95,526.70) scale(0.08385,0.16769)" vector-effect="non-scaling-stroke">L</text>
<text transform="translate(709.51,526.70) scale(0.07196,0.16769)" vector-effect="non-scaling-stroke">U</text>
<text transform="translate(715.07,526.70) scale(0.07646,0.16769)" vector-effect="non-scaling-stroke">O</text>
<text transform="translate(720.63,526.70) scale(0.07092,0.16769)" vector-effect="non-scaling-stroke">Y</text>
<text transform="translate(726.19,526.70) scale(0.06991,0.16769)" vector-effect="non-scaling-stroke">A</text>
<text transform="translate(731.75,526.70) scale(0.07304,0.16769)" vector-effect="non-scaling-stroke">N</text>
<text transform="translate(737.32,526.70) scale(0.07528,0.16769)" vector-effect="non-scaling-stroke">G</text>
</g>
<g font-family="Liberation Serif" font-weight="normal" font-size="100" fill="#1a1a1a" stroke="#1a1a1a" stroke-width="0.08" text-anchor="middle">
<text transform="translate(748.35,526.70) scale(0.07358,0.16769)" vector-effect="non-scaling-stroke">Q</text>
<text transform="translate(753.98,526.70) scale(0.08385,0.16769)" vector-effect="non-scaling-stroke">I</text>
<text transform="translate(759.60,526.70) scale(0.08356,0.16769)" vector-effect="non-scaling-stroke">B</text>
<text transform="translate(765.22,526.70) scale(0.07826,0.16769)" vector-effect="non-scaling-stroke">R</text>
</g>
<g font-family="Liberation Serif" font-weight="normal" font-size="100" fill="#1a1a1a" stroke="#1a1a1a" stroke-width="0.08" text-anchor="middle">
<text transform="translate(776.57,526.70) scale(0.08218,0.16769)" vector-effect="non-scaling-stroke">B</text>
<text transform="translate(782.08,526.70) scale(0.08385,0.16769)" vector-effect="non-scaling-stroke">E</text>
<text transform="translate(787.59,526.70) scale(0.06927,0.16769)" vector-effect="non-scaling-stroke">A</text>
<text transform="translate(793.10,526.70) scale(0.07697,0.16769)" vector-effect="non-scaling-stroke">R</text>
<text transform="translate(798.61,526.70) scale(0.08385,0.16769)" vector-effect="non-scaling-stroke">I</text>
<text transform="translate(804.13,526.70) scale(0.07237,0.16769)" vector-effect="non-scaling-stroke">N</text>
<text transform="translate(809.64,526.70) scale(0.07460,0.16769)" vector-effect="non-scaling-stroke">G</text>
</g>
<g font-family="Liberation Serif" font-weight="normal" font-size="100" fill="#1a1a1a" stroke="#1a1a1a" stroke-width="0.08" text-anchor="middle">
<text transform="translate(820.81,526.70) scale(0.07951,0.16769)" vector-effect="non-scaling-stroke">C</text>
<text transform="translate(825.97,526.70) scale(0.07082,0.16769)" vector-effect="non-scaling-stroke">O</text>
<text transform="translate(829.58,526.70) scale(0.15092,0.16769)" vector-effect="non-scaling-stroke">.</text>
<text transform="translate(834.75,526.70) scale(0.15092,0.16769)" vector-effect="non-scaling-stroke">,</text>
</g>
<g font-family="Liberation Serif" font-weight="normal" font-size="100" fill="#1a1a1a" stroke="#1a1a1a" stroke-width="0.08" text-anchor="middle">
<text transform="translate(848.65,526.70) scale(0.08385,0.16769)" vector-effect="non-scaling-stroke">L</text>
<text transform="translate(854.01,526.70) scale(0.08122,0.16769)" vector-effect="non-scaling-stroke">T</text>
<text transform="translate(859.38,526.70) scale(0.07248,0.16769)" vector-effect="non-scaling-stroke">D</text>
</g>
<g font-family="Liberation Serif" font-weight="normal" font-size="100" fill="#1a1a1a" stroke="#1a1a1a" stroke-width="0.08" text-anchor="middle">
<text transform="translate(720.05,548.30) scale(0.08957,0.14928)" vector-effect="non-scaling-stroke">h</text>
<text transform="translate(725.62,548.30) scale(0.11196,0.14928)" vector-effect="non-scaling-stroke">t</text>
<text transform="translate(731.19,548.30) scale(0.11196,0.14928)" vector-effect="non-scaling-stroke">t</text>
<text transform="translate(736.77,548.30) scale(0.08957,0.14928)" vector-effect="non-scaling-stroke">p</text>
<text transform="translate(742.34,548.30) scale(0.13435,0.14928)" vector-effect="non-scaling-stroke">:</text>
<text transform="translate(747.91,548.30) scale(0.10449,0.14928)" vector-effect="non-scaling-stroke">/</text>
<text transform="translate(753.48,548.30) scale(0.10449,0.14928)" vector-effect="non-scaling-stroke">/</text>
<text transform="translate(759.05,548.30) scale(0.06810,0.17017)" vector-effect="non-scaling-stroke">w</text>
<text transform="translate(764.63,548.30) scale(0.06810,0.17017)" vector-effect="non-scaling-stroke">w</text>
<text transform="translate(770.20,548.30) scale(0.06810,0.17017)" vector-effect="non-scaling-stroke">w</text>
<text transform="translate(774.10,548.30) scale(0.13435,0.14928)" vector-effect="non-scaling-stroke">.</text>
<text transform="translate(781.34,548.30) scale(0.07319,0.14928)" vector-effect="non-scaling-stroke">Q</text>
<text transform="translate(786.92,548.30) scale(0.07464,0.14928)" vector-effect="non-scaling-stroke">I</text>
<text transform="translate(792.49,548.30) scale(0.07464,0.14928)" vector-effect="non-scaling-stroke">B</text>
<text transform="translate(798.06,548.30) scale(0.07464,0.14928)" vector-effect="non-scaling-stroke">R</text>
<text transform="translate(801.96,548.30) scale(0.13435,0.14928)" vector-effect="non-scaling-stroke">.</text>
<text transform="translate(809.20,548.30) scale(0.08359,0.17017)" vector-effect="non-scaling-stroke">c</text>
<text transform="translate(814.78,548.30) scale(0.08359,0.17017)" vector-effect="non-scaling-stroke">o</text>
<text transform="translate(820.35,548.30) scale(0.06626,0.17017)" vector-effect="non-scaling-stroke">m</text>
</g>
<g font-family="Liberation Serif" font-weight="normal" font-size="100" fill="#1a1a1a" stroke="#1a1a1a" stroke-width="0.08" text-anchor="middle">
<text transform="translate(598.26,590.10) scale(0.09597,0.22769)" vector-effect="non-scaling-stroke">A</text>
<text transform="translate(605.90,590.10) scale(0.10027,0.22769)" vector-effect="non-scaling-stroke">N</text>
<text transform="translate(613.53,590.10) scale(0.10336,0.22769)" vector-effect="non-scaling-stroke">G</text>
<text transform="translate(621.17,590.10) scale(0.09880,0.22769)" vector-effect="non-scaling-stroke">U</text>
<text transform="translate(628.81,590.10) scale(0.11385,0.22769)" vector-effect="non-scaling-stroke">L</text>
<text transform="translate(636.44,590.10) scale(0.09597,0.22769)" vector-effect="non-scaling-stroke">A</text>
<text transform="translate(644.08,590.10) scale(0.10664,0.22769)" vector-effect="non-scaling-stroke">R</text>
</g>
<g font-family="Liberation Serif" font-weight="normal" font-size="100" fill="#1a1a1a" stroke="#1a1a1a" stroke-width="0.08" text-anchor="middle">
<text transform="translate(659.70,590.10) scale(0.11385,0.22769)" vector-effect="non-scaling-stroke">C</text>
<text transform="translate(667.48,590.10) scale(0.10701,0.22769)" vector-effect="non-scaling-stroke">O</text>
<text transform="translate(675.27,590.10) scale(0.10222,0.22769)" vector-effect="non-scaling-stroke">N</text>
<text transform="translate(683.05,590.10) scale(0.11385,0.22769)" vector-effect="non-scaling-stroke">T</text>
<text transform="translate(690.83,590.10) scale(0.09784,0.22769)" vector-effect="non-scaling-stroke">A</text>
<text transform="translate(698.62,590.10) scale(0.11385,0.22769)" vector-effect="non-scaling-stroke">C</text>
<text transform="translate(706.40,590.10) scale(0.11385,0.22769)" vector-effect="non-scaling-stroke">T</text>
</g>
<g font-family="Liberation Serif" font-weight="normal" font-size="100" fill="#1a1a1a" stroke="#1a1a1a" stroke-width="0.08" text-anchor="middle">
<text transform="translate(608.76,618.80) scale(0.11538,0.23077)" vector-effect="non-scaling-stroke">B</text>
<text transform="translate(616.55,618.80) scale(0.09786,0.23077)" vector-effect="non-scaling-stroke">A</text>
<text transform="translate(624.33,618.80) scale(0.11538,0.23077)" vector-effect="non-scaling-stroke">L</text>
<text transform="translate(632.12,618.80) scale(0.11538,0.23077)" vector-effect="non-scaling-stroke">L</text>
</g>
<g font-family="Liberation Serif" font-weight="normal" font-size="100" fill="#1a1a1a" stroke="#1a1a1a" stroke-width="0.08" text-anchor="middle">
<text transform="translate(647.75,618.80) scale(0.11484,0.23077)" vector-effect="non-scaling-stroke">B</text>
<text transform="translate(655.45,618.80) scale(0.11538,0.23077)" vector-effect="non-scaling-stroke">E</text>
<text transform="translate(663.15,618.80) scale(0.09679,0.23077)" vector-effect="non-scaling-stroke">A</text>
<text transform="translate(670.85,618.80) scale(0.10755,0.23077)" vector-effect="non-scaling-stroke">R</text>
<text transform="translate(678.56,618.80) scale(0.11538,0.23077)" vector-effect="non-scaling-stroke">I</text>
<text transform="translate(686.26,618.80) scale(0.10113,0.23077)" vector-effect="non-scaling-stroke">N</text>
<text transform="translate(693.96,618.80) scale(0.10424,0.23077)" vector-effect="non-scaling-stroke">G</text>
</g>
<g font-family="Liberation Serif" font-weight="normal" font-size="100" fill="#1a1a1a" stroke="#1a1a1a" stroke-width="0.08" text-anchor="middle">
<text transform="translate(761.02,590.20) scale(0.11692,0.23385)" vector-effect="non-scaling-stroke">P</text>
<text transform="translate(768.75,590.20) scale(0.09716,0.23385)" vector-effect="non-scaling-stroke">A</text>
<text transform="translate(776.48,590.20) scale(0.10796,0.23385)" vector-effect="non-scaling-stroke">R</text>
<text transform="translate(784.21,590.20) scale(0.11692,0.23385)" vector-effect="non-scaling-stroke">T</text>
</g>
<g font-family="Liberation Serif" font-weight="normal" font-size="100" fill="#1a1a1a" stroke="#1a1a1a" stroke-width="0.08" text-anchor="middle">
<text transform="translate(801.78,590.20) scale(0.10244,0.23385)" vector-effect="non-scaling-stroke">N</text>
<text transform="translate(809.59,590.20) scale(0.10094,0.23385)" vector-effect="non-scaling-stroke">U</text>
<text transform="translate(817.39,590.20) scale(0.08269,0.23385)" vector-effect="non-scaling-stroke">M</text>
<text transform="translate(825.20,590.20) scale(0.11633,0.23385)" vector-effect="non-scaling-stroke">B</text>
<text transform="translate(833.00,590.20) scale(0.11692,0.23385)" vector-effect="non-scaling-stroke">E</text>
<text transform="translate(840.80,590.20) scale(0.10895,0.23385)" vector-effect="non-scaling-stroke">R</text>
</g>
<g font-family="Liberation Serif" font-weight="normal" font-size="100" fill="#1a1a1a" stroke="#1a1a1a" stroke-width="0.08" text-anchor="middle">
<text transform="translate(769.32,624.40) scale(0.13454,0.24462)" vector-effect="non-scaling-stroke">7</text>
<text transform="translate(777.82,624.40) scale(0.13454,0.24462)" vector-effect="non-scaling-stroke">0</text>
<text transform="translate(786.32,624.40) scale(0.13454,0.24462)" vector-effect="non-scaling-stroke">0</text>
<text transform="translate(794.82,624.40) scale(0.13454,0.24462)" vector-effect="non-scaling-stroke">0</text>
<text transform="translate(803.32,624.40) scale(0.12231,0.24462)" vector-effect="non-scaling-stroke">C</text>
<text transform="translate(811.82,624.40) scale(0.12231,0.24462)" vector-effect="non-scaling-stroke">T</text>
<text transform="translate(820.32,624.40) scale(0.10839,0.24462)" vector-effect="non-scaling-stroke">Y</text>
<text transform="translate(828.82,624.40) scale(0.11163,0.24462)" vector-effect="non-scaling-stroke">N</text>
<text transform="translate(837.32,624.40) scale(0.17123,0.24462)" vector-effect="non-scaling-stroke">/</text>
<text transform="translate(845.82,624.40) scale(0.12231,0.24462)" vector-effect="non-scaling-stroke">P</text>
<text transform="translate(854.32,624.40) scale(0.13454,0.24462)" vector-effect="non-scaling-stroke">4</text>
<text transform="translate(862.81,624.40) scale(0.10839,0.24462)" vector-effect="non-scaling-stroke">Y</text>
</g>
</svg></body></html>
